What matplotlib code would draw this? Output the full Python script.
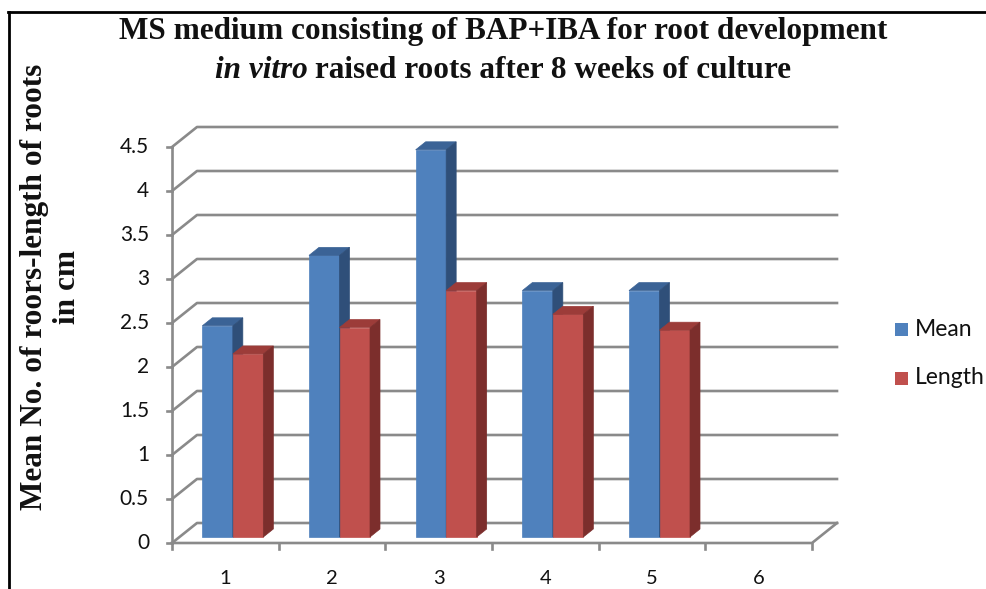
import matplotlib
matplotlib.use("Agg")
import matplotlib.pyplot as plt
from matplotlib.patches import Polygon
from matplotlib.lines import Line2D

# ---- data ----
categories = ["1", "2", "3", "4", "5", "6"]
mean_vals = [2.4, 3.2, 4.4, 2.8, 2.8, None]
length_vals = [2.08, 2.38, 2.8, 2.53, 2.35, None]
series_names = ["Mean", "Length"]
y_ticks = [0, 0.5, 1, 1.5, 2, 2.5, 3, 3.5, 4, 4.5]
y_tick_labels = ["0", "0.5", "1", "1.5", "2", "2.5", "3", "3.5", "4", "4.5"]

W, H, DPI = 987, 589, 100
fig = plt.figure(figsize=(W / DPI, H / DPI), dpi=DPI)
fig.patch.set_facecolor("white")

# plot area (front plane of the 3D box), in pixels
x0px, x1px, y0px, y1px = 172, 812, 543, 147
ax = fig.add_axes([x0px / W, 1 - y0px / H, (x1px - x0px) / W, (y0px - y1px) / H])
ax.set_xlim(0, len(categories))
ax.set_ylim(0, 4.5)
ax.axis("off")

# depth of the box in screen pixels, converted to data units
DEPTH_PX = (25.0, 20.0)
px_per_x = (x1px - x0px) / len(categories)
px_per_y = (y0px - y1px) / 4.5
DX = DEPTH_PX[0] / px_per_x
DY = DEPTH_PX[1] / px_per_y


def proj(x, y, d):
    """Oblique projection: d is depth fraction 0 (front) .. 1 (back wall)."""
    return (x + d * DX, y + d * DY)


grid_col = "#8a8a8a"
glw = 1.9
label_font = dict(family="Lato", color="#111111")

# back wall gridlines with side-wall diagonals
for v in y_ticks:
    pts = [proj(0, v, 0), proj(0, v, 1), proj(len(categories), v, 1)]
    xs, ys = zip(*pts)
    ax.add_line(Line2D(xs, ys, color=grid_col, lw=glw, clip_on=False, zorder=1))

# floor front edge and right floor edge
pts = [proj(0, 0, 0), proj(len(categories), 0, 0), proj(len(categories), 0, 1)]
xs, ys = zip(*pts)
ax.add_line(Line2D(xs, ys, color=grid_col, lw=glw, clip_on=False, zorder=1))

# vertical value axis
ax.add_line(Line2D([0, 0], [0, 4.5], color=grid_col, lw=glw, clip_on=False, zorder=1))

# tick marks and labels
tick_x = 5.5 / px_per_x
tick_y = 6.0 / px_per_y
for v, lab in zip(y_ticks, y_tick_labels):
    ax.add_line(Line2D([-tick_x, 0], [v, v], color=grid_col, lw=glw, clip_on=False))
    ax.text(-23 / px_per_x, v, lab, ha="right", va="center", fontsize=15, **label_font)
for i in range(len(categories) + 1):
    ax.add_line(Line2D([i, i], [0, -tick_y], color=grid_col, lw=glw, clip_on=False))
for i, lab in enumerate(categories):
    ax.text(i + 0.5, -35 / px_per_y, lab, ha="center", va="center", fontsize=14.5,
            **label_font)

# bars
bar_w = 30.5 / px_per_x
d_front, d_back = 0.3, 0.7
styles = {
    "Mean": ("#4f81bd", "#3b6396", "#2f4f79"),
    "Length": ("#c0504d", "#9c3c39", "#7c2e2c"),
}


def draw_bar(xl, v, cols):
    front, top, side = cols
    xr = xl + bar_w
    f = [proj(xl, 0, d_front), proj(xr, 0, d_front), proj(xr, v, d_front), proj(xl, v, d_front)]
    t = [proj(xl, v, d_front), proj(xr, v, d_front), proj(xr, v, d_back), proj(xl, v, d_back)]
    s = [proj(xr, 0, d_front), proj(xr, 0, d_back), proj(xr, v, d_back), proj(xr, v, d_front)]
    for poly, c in ((f, front), (t, top), (s, side)):
        ax.add_patch(Polygon(poly, closed=True, facecolor=c, edgecolor=c, lw=0.5,
                             clip_on=False, zorder=3))


for i in range(len(categories)):
    c = i + 0.5
    if mean_vals[i] is not None:
        draw_bar(c - bar_w, mean_vals[i], styles["Mean"])
    if length_vals[i] is not None:
        draw_bar(c, length_vals[i], styles["Length"])

# legend
for name, ypx in zip(series_names, (329, 378)):
    fig.patches.append(plt.Rectangle((895 / W, 1 - (ypx + 7) / H), 13 / W, 13 / H,
                                     transform=fig.transFigure, facecolor=styles[name][0],
                                     edgecolor="none"))
    fig.text(915 / W, 1 - ypx / H, name, ha="left", va="center", fontsize=16.5,
             **label_font)

# title
title_kw = dict(family="Liberation Serif", weight="bold", fontsize=22.5, color="#111111")
fig.text(503 / W, 1 - 32 / H, "MS medium consisting of BAP+IBA for root development",
         ha="center", va="center", **title_kw)
fig.canvas.draw()
renderer = fig.canvas.get_renderer()
p1 = fig.text(0, 1 - 71 / H, "in vitro", ha="left", va="center", style="italic", **title_kw)
p2 = fig.text(0, 1 - 71 / H, " raised roots after 8 weeks of culture", ha="left",
              va="center", **title_kw)
w1 = p1.get_window_extent(renderer).width
w2 = p2.get_window_extent(renderer).width
start = 503 - (w1 + w2) / 2
p1.set_x(start / W)
p2.set_x((start + w1) / W)

# y axis title
fig.text(51 / W, 1 - 287 / H, "Mean No. of roors-length of roots\nin cm", rotation=90,
         ha="center", va="center", multialignment="center", linespacing=1.15, **title_kw)

# frame lines
fig.add_artist(Line2D([8 / W, 1], [1 - 12 / H, 1 - 12 / H], color="black", lw=2,
                      transform=fig.transFigure))
fig.add_artist(Line2D([9 / W, 9 / W], [0, 1 - 12 / H], color="black", lw=2,
                      transform=fig.transFigure))

fig.savefig("out.png", dpi=DPI)
